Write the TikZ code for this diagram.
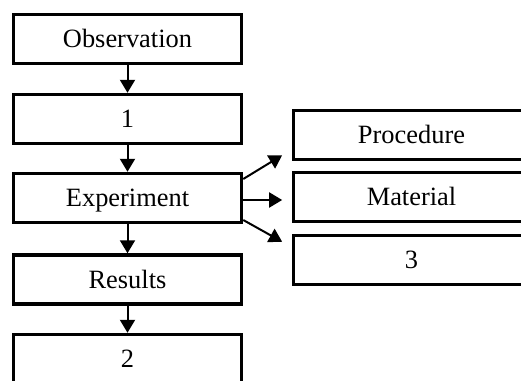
\documentclass[tikz,border=0pt]{standalone}
\usepackage{fontspec}
\setmainfont{Liberation Serif}
\usetikzlibrary{arrows.meta}
\begin{document}
\begin{tikzpicture}[x=1pt,y=-1pt,
  box/.style={draw, line width=3.5pt, inner sep=0pt, minimum width=228pt, minimum height=49pt,
    font=\fontsize{26.4}{30}\selectfont, text height=17.5pt, text depth=0pt},
  rbox/.style={box, minimum width=236pt},
  arr/.style={line width=2pt, -{Triangle[length=13pt,width=15pt]}}]
\useasboundingbox (0,0) rectangle (521,380);
\clip (0,0) rectangle (521,380);
\node[box] (obs) at (127.5,39) {Observation};
\node[box] (b1) at (127.5,119) {1};
\node[box] (exp) at (127.5,198) {Experiment};
\node[box] (res) at (127.5,279.5) {Results};
\node[box] (b2) at (127.5,359) {2};
\node[rbox] (proc) at (411.5,135) {Procedure};
\node[rbox] (mat) at (411.5,197) {Material};
\node[rbox] (b3) at (411.5,260) {3};
\draw[arr] (obs) -- (b1);
\draw[arr] (b1) -- (exp);
\draw[arr] (exp) -- (res);
\draw[arr] (res) -- (b2);
\draw[arr] ([yshift=19pt]exp.east) -- ([xshift=-9.6pt,yshift=6pt]proc.south west);
\draw[arr, shorten >=9.6pt] ([yshift=-2pt]exp.east) -- ([yshift=-2pt]exp.east -| mat.west);
\draw[arr] ([yshift=-22pt]exp.east) -- ([xshift=-9.6pt,yshift=-8pt]b3.north west);
\end{tikzpicture}
\end{document}
